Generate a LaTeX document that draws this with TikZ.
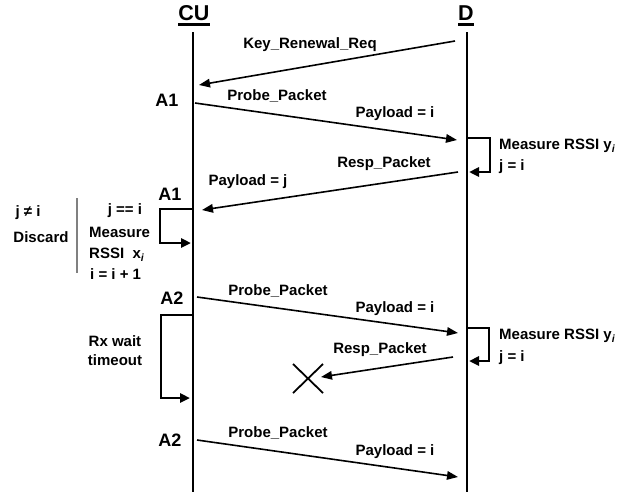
\documentclass[tikz,border=0pt]{standalone}
\usepackage{fontspec}
\setmainfont{Liberation Sans}
\usetikzlibrary{arrows.meta}
\begin{document}
\begin{tikzpicture}[x=1pt,y=-1pt,
  lbl/.style={font=\fontsize{15}{17}\selectfont\bfseries, inner sep=0pt, text height=0.72em, text depth=0em},
  head/.style={font=\fontsize{21.5}{24}\selectfont\bfseries, inner sep=0pt},
  act/.style={font=\fontsize{18}{20}\selectfont\bfseries, inner sep=0pt, text height=0.72em, text depth=0em},
  life/.style={line width=2.4pt},
  msg/.style={line width=1.6pt, -{Triangle[length=11pt,width=8.5pt]}},
  selfloop/.style={line width=2.8pt, -{Triangle[length=10pt,width=9pt]}},
]
\useasboundingbox (0,0) rectangle (624,496);
\fill[white] (0,0) rectangle (624,496);

% headers
\node[head, anchor=base] (cu) at (194,20) {CU};
\node[head, anchor=base] (d) at (466,20) {D};
\draw[line width=2.4pt] ([yshift=-4.5pt]cu.base west) -- ([yshift=-4.5pt]cu.base east);
\draw[line width=2.4pt] ([yshift=-4.5pt]d.base west) -- ([yshift=-4.5pt]d.base east);

% lifelines
\coordinate (cutop) at (193,32);
\coordinate (cubot) at (193,492);
\coordinate (dtop) at (467,32);
\coordinate (dbot) at (467,492);
\draw[life] (cutop) -- (cubot);
\draw[life] (dtop) -- (dbot);

% Key renewal
\coordinate (k1) at (455,41);
\coordinate (k2) at (199,85);
\draw[msg] (k1) -- (k2);
\node[lbl] (klbl) at (310,45) {Key\_Renewal\_Req};

% first probe
\node[act] (a1a) at (167,103) {A1};
\coordinate (p1s) at (195,103);
\coordinate (p1e) at (457,140);
\draw[msg] (p1s) -- (p1e);
\node[lbl] (p1l) at (277,97) {Probe\_Packet};
\node[lbl] (p1p) at (395,114) {Payload = i};

% D loop 1
\coordinate (dl1a) at (467,138);
\coordinate (dl1b) at (490,138);
\coordinate (dl1c) at (490,172);
\coordinate (dl1d) at (469,172);
\draw[selfloop] (dl1a) -- (dl1b) -- (dl1c) -- (dl1d);
\node[lbl, anchor=west] (m1) at (499,146) {Measure RSSI y\textsubscript{\itshape i}};
\node[lbl, anchor=west] (ji1) at (499,167) {j = i};

% Resp 1
\coordinate (r1s) at (458,172);
\coordinate (r1e) at (202,210);
\draw[msg] (r1s) -- (r1e);
\node[lbl] (r1l) at (384,164) {Resp\_Packet};
\node[lbl] (r1p) at (248,182) {Payload = j};

% CU loop 1
\node[act] (a1b) at (170,197) {A1};
\coordinate (cl1a) at (193,209);
\coordinate (cl1b) at (160,209);
\coordinate (cl1c) at (160,243);
\coordinate (cl1d) at (191,243);
\draw[selfloop] (cl1a) -- (cl1b) -- (cl1c) -- (cl1d);
\node[lbl] (jeq) at (125,211) {j == i};
\node[lbl, anchor=west] (meas) at (89,234) {Measure};
\node[lbl, anchor=west] (rssix) at (89,255) {RSSI\ \ x\textsubscript{\itshape i}};
\node[lbl, anchor=west] (inc) at (90,276) {i = i + 1};
\node[lbl] (jne) at (28,213) {j ≠ i};
\node[lbl] (disc) at (41,239) {Discard};
\coordinate (sepa) at (77,198);
\coordinate (sepb) at (77,273);
\draw[gray, line width=1.2pt] (sepa) -- (sepb);

% second probe
\node[act] (a2a) at (172,301) {A2};
\coordinate (p2s) at (197,297);
\coordinate (p2e) at (458,333);
\draw[msg] (p2s) -- (p2e);
\node[lbl] (p2l) at (278,292) {Probe\_Packet};
\node[lbl] (p2p) at (395,309) {Payload = i};

% CU loop 2
\coordinate (cl2a) at (193,315);
\coordinate (cl2b) at (161,315);
\coordinate (cl2c) at (161,398);
\coordinate (cl2d) at (190,398);
\draw[selfloop] (cl2a) -- (cl2b) -- (cl2c) -- (cl2d);
\node[lbl] (rx) at (115,343) {Rx wait};
\node[lbl] (tmo) at (115,362) {timeout};

% D loop 2
\coordinate (dl2a) at (467,328);
\coordinate (dl2b) at (489,328);
\coordinate (dl2c) at (489,361);
\coordinate (dl2d) at (469,361);
\draw[selfloop] (dl2a) -- (dl2b) -- (dl2c) -- (dl2d);
\node[lbl, anchor=west] (m2) at (499,336) {Measure RSSI y\textsubscript{\itshape i}};
\node[lbl, anchor=west] (ji2) at (499,358) {j = i};

% Resp 2 lost
\coordinate (r2s) at (453,357);
\coordinate (r2e) at (321,377);
\draw[msg] (r2s) -- (r2e);
\node[lbl] (r2l) at (380,350) {Resp\_Packet};
\coordinate (xa) at (293,364);
\coordinate (xb) at (323,393);
\coordinate (xc) at (293,393);
\coordinate (xd) at (323,364);
\draw[line width=1.8pt] (xa) -- (xb) (xc) -- (xd);

% third probe
\node[act] (a2b) at (170,443) {A2};
\coordinate (p3s) at (197,440);
\coordinate (p3e) at (458,477);
\draw[msg] (p3s) -- (p3e);
\node[lbl] (p3l) at (278,434) {Probe\_Packet};
\node[lbl] (p3p) at (395,452) {Payload = i};
\end{tikzpicture}
\end{document}
